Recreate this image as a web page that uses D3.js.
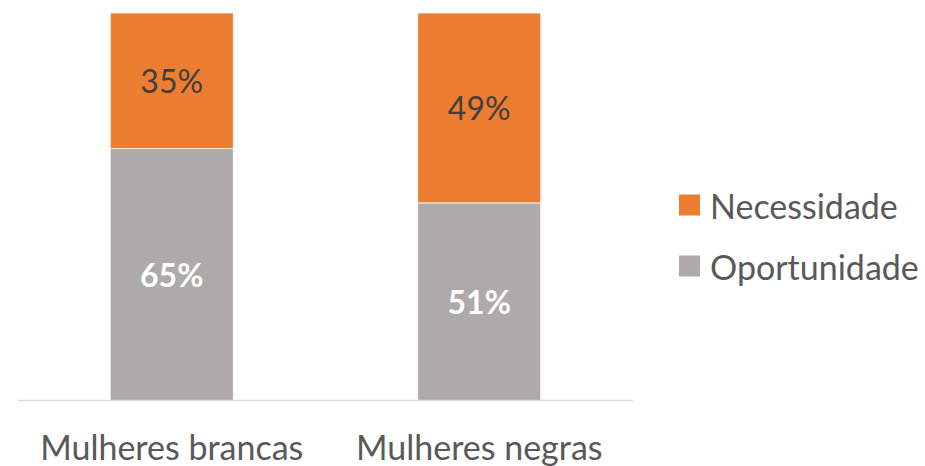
<!DOCTYPE html>
<html>
<head>
<meta charset="utf-8">
<script src="https://cdn.jsdelivr.net/npm/d3@7/dist/d3.min.js"></script>
<style>
  html, body { margin: 0; padding: 0; background: #fff; }
  svg { display: block; }
  text { font-family: Lato, "Open Sans", sans-serif; }
</style>
</head>
<body>
<div id="chart"></div>
<script>
// Share of women entrepreneurs by motivation (100% stacked)
const categories = ["Mulheres brancas", "Mulheres negras"];
const seriesNames = ["Oportunidade", "Necessidade"];
const oportunidade = [65, 51];
const necessidade = [35, 49];
const legendOrder = ["Necessidade", "Oportunidade"];

const colors = { "Necessidade": "#ED7D31", "Oportunidade": "#AEAAAA" };
const labelColors = { "Necessidade": "#404040", "Oportunidade": "#FFFFFF" };
const labelWeights = { "Necessidade": 400, "Oportunidade": 700 };

const W = 925, H = 466;
const plot = { left: 18, right: 633, top: 13, bottom: 400.5 };

const rows = categories.map((c, i) => ({
  category: c,
  Oportunidade: oportunidade[i],
  Necessidade: necessidade[i]
}));

const stack = d3.stack().keys(seriesNames);
const layers = stack(rows);

const x = d3.scaleBand()
  .domain(categories)
  .range([plot.left, plot.right])
  .paddingInner(0.6)
  .paddingOuter(0.3);

const y = d3.scaleLinear()
  .domain([0, 100])
  .range([plot.bottom, plot.top]);

const svg = d3.select("#chart").append("svg")
  .attr("width", W)
  .attr("height", H);

// bars
const g = svg.append("g");
layers.forEach(layer => {
  const key = layer.key;
  g.selectAll(null)
    .data(layer)
    .join("rect")
    .attr("x", d => x(d.data.category))
    .attr("width", x.bandwidth())
    .attr("y", d => y(d[1]))
    .attr("height", d => y(d[0]) - y(d[1]))
    .attr("fill", colors[key])
    .attr("stroke", "#ffffff")
    .attr("stroke-width", 0.75);

  g.selectAll(null)
    .data(layer)
    .join("text")
    .attr("x", d => x(d.data.category) + x.bandwidth() / 2)
    .attr("y", d => (y(d[0]) + y(d[1])) / 2)
    .attr("text-anchor", "middle")
    .attr("dominant-baseline", "central")
    .attr("font-size", 32)
    .attr("font-weight", labelWeights[key])
    .attr("fill", labelColors[key])
    .text(d => (d[1] - d[0]) + "%");
});

// category axis
const xAxis = d3.axisBottom(x).tickSize(0).tickPadding(0);
const axisG = svg.append("g")
  .attr("transform", `translate(0,${plot.bottom})`)
  .call(xAxis);
axisG.select(".domain")
  .attr("stroke", "#D9D9D9")
  .attr("stroke-width", 1.5)
  .attr("d", `M${plot.left},0H${plot.right}`);
axisG.selectAll(".tick text")
  .attr("font-family", "Lato, 'Open Sans', sans-serif")
  .attr("font-size", 34)
  .attr("fill", "#595959")
  .attr("dy", 0)
  .attr("y", 59);

// legend
const legend = svg.append("g").attr("transform", "translate(679,0)");
const legendY = d3.scalePoint().domain(legendOrder).range([205, 266]);
legendOrder.forEach(name => {
  const row = legend.append("g").attr("transform", `translate(0,${legendY(name)})`);
  row.append("rect")
    .attr("x", 0).attr("y", -10.5)
    .attr("width", 21).attr("height", 21)
    .attr("fill", colors[name]);
  row.append("text")
    .attr("x", 31)
    .attr("y", 0)
    .attr("dominant-baseline", "central")
    .attr("font-size", 34)
    .attr("fill", "#595959")
    .text(name);
});
</script>
</body>
</html>
